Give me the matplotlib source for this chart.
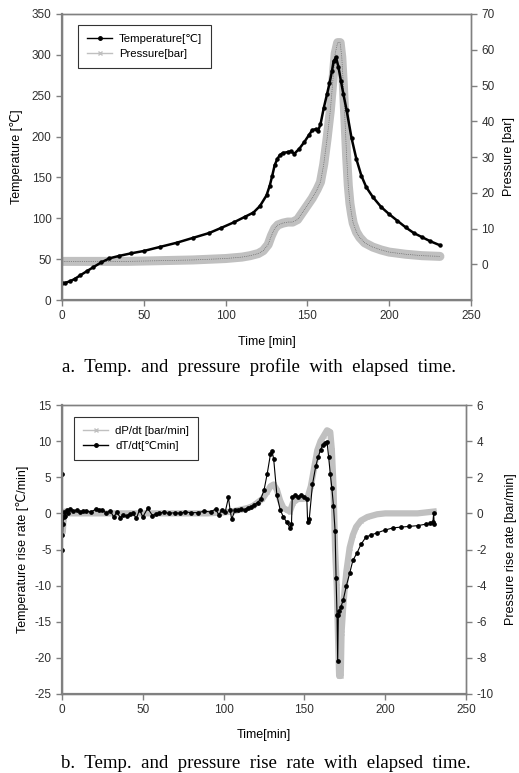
import numpy as np
import matplotlib
matplotlib.use("Agg")
import matplotlib.pyplot as plt
from matplotlib.lines import Line2D

plt.rcParams['font.family'] = ['Liberation Sans', 'DejaVu Sans']
plt.rcParams['axes.unicode_minus'] = False

# --- a. temperature / pressure profile ---
t_temp = [0, 2, 5, 8, 11, 15, 19, 24, 29, 35, 42, 50, 60, 70, 80, 90, 97, 105,
          112, 117, 121, 125, 127, 128.5, 130, 131.5, 133, 135, 138, 140, 142,
          145, 148, 151, 153, 155, 156.5, 158, 160, 162, 163.5, 165, 166, 167.5,
          169, 170.5, 172, 174, 177, 180, 183, 186, 190, 195, 200, 205, 210, 215,
          220, 225, 231]
temp = [21, 21, 23, 26, 30, 35, 40, 46, 51, 54, 57, 60, 65, 70, 76, 82, 88, 95,
        102, 107, 115, 128, 140, 152, 165, 172, 177, 180, 181, 182, 179,
        185, 193, 202, 208, 209, 207, 215, 235, 252, 265, 280, 292, 297,
        285, 268, 252, 232, 198, 172, 152, 138, 126, 114, 105, 97, 89, 82,
        77, 72, 67]

t_pres = [0, 10, 20, 30, 40, 50, 60, 70, 80, 90, 100, 110, 115, 120, 123, 126,
          128, 130, 132, 135, 138, 141, 144, 147, 150, 153, 156, 158, 160, 162,
          164, 165.5, 167, 168.5, 170, 171, 172, 173, 174, 175, 176, 177, 178,
          180, 182, 185, 190, 195, 200, 210, 220, 231]
pres = [0.8, 0.8, 0.8, 0.8, 0.8, 0.9, 1.0, 1.1, 1.2, 1.4, 1.6, 2.0, 2.4, 3.0,
        3.8, 5.5, 8.0, 10.0, 11.0, 11.5, 11.8, 11.8, 12.5, 14.5, 16.5, 18.5,
        21, 23, 28, 35, 43, 51, 59, 62, 62, 58, 50, 40, 30, 22, 17, 14, 11.5,
        9, 7.5, 6, 4.8, 4, 3.4, 2.8, 2.4, 2.2]

# --- b. rise rates ---
t_dT = [0, 0, 0.3, 0.6, 1, 1.5, 2, 3, 4, 5, 7, 9, 11, 13, 15, 18, 21, 23, 25, 27,
        30, 32, 34, 36, 38, 40, 42, 44, 46, 48, 50, 53, 56, 58, 60, 63, 66, 70,
        73, 76, 80, 84, 88, 92, 95, 97, 99, 101, 103, 104, 105, 107, 109, 111,
        113, 115, 117, 119, 121, 123, 125, 127, 129, 130, 131, 133, 135, 137,
        139, 141, 142, 142.5, 144, 146, 148, 150, 151.5, 152, 153, 155, 157,
        158.5, 160, 161.5, 163, 164, 165, 166, 167, 168, 169, 169.6, 170.2,
        170.6, 171, 171.5, 172.5, 174, 176, 178, 180, 182.5, 185, 188, 191, 195,
        200, 205, 210, 215, 220, 225, 228, 229.5, 230, 230.3]
dT = [5.5, -5, -3, -1.5, -0.5, 0.2, -0.3, 0.4, 0.1, 0.6, 0.3, 0.5, 0.2, 0.3, 0.3,
      0.2, 0.6, 0.4, 0.5, 0.1, 0.3, -0.5, 0.2, -0.6, -0.2, -0.4, -0.1, 0.0, -0.7,
      0.5, -0.5, 0.7, -0.3, -0.1, 0.0, 0.2, 0.0, 0.1, 0.0, 0.2, 0.1, 0.1, 0.3,
      0.2, 0.6, -0.2, 0.5, 0.2, 2.2, 0.5, -0.8, 0.4, 0.4, 0.6, 0.5, 0.8, 0.9,
      1.2, 1.5, 2.0, 3.2, 5.5, 8.2, 8.6, 7.5, 2.5, 0.5, -0.5, -1.2, -2.0, -1.5,
      2.3, 2.5, 2.2, 2.6, 2.2, 2.0, -1.2, -0.8, 4.0, 6.5, 7.8, 8.8, 9.5, 9.8,
      9.9, 7.8, 5.5, 3.5, 1.0, -2.5, -9, -14, -20.5, -14, -13.5, -13, -12, -10,
      -8.3, -6.5, -5.5, -4.3, -3.3, -3.0, -2.7, -2.3, -2.0, -1.9, -1.8, -1.7,
      -1.5, -1.4, -1.2, 0.0, -1.5]

t_dP = [0, 0.5, 1, 2, 4, 10, 20, 30, 40, 50, 60, 70, 80, 90, 100, 105, 110, 115,
        118, 121, 124, 127, 129, 131, 133, 135, 137, 139, 141, 143, 146, 149,
        152, 154, 156, 158, 160, 162, 164, 166, 167, 168, 169, 170, 171, 171.5,
        172.5, 173, 174, 175, 176, 178, 180, 182, 185, 189, 195, 200, 210, 220,
        230]
dP = [0, -1.0, -0.3, 0.1, 0, 0, 0, 0, 0, 0, 0, 0, 0, 0, 0.05, 0.1, 0.2, 0.3,
      0.4, 0.6, 0.8, 1.2, 1.5, 1.6, 1.3, 0.7, 0.3, 0.2, 0.1, 0.6, 0.8, 0.8,
      0.9, 1.5, 2.5, 3.5, 4.0, 4.3, 4.6, 4.5, 3.5, 1.5, -2, -4, -7.5, -9.0,
      -9.0, -6.6, -5.2, -4.1, -3.2, -1.9, -1.2, -0.75, -0.4, -0.2, -0.05, 0,
      0, 0, 0.1]

GRAY = '#c0c0c0'
SPINE = '#808080'
W, H = 519, 773

fig = plt.figure(figsize=(W / 100, H / 100), dpi=100)


def style(ax, ax2):
    for a in (ax, ax2):
        for s in a.spines.values():
            s.set_color(SPINE)
            s.set_linewidth(1.0)
        a.tick_params(direction='out', length=4, width=1, color=SPINE,
                      labelsize=8.5, labelcolor='#303030')
    ax.spines['left'].set_linewidth(1.6)
    ax.spines['bottom'].set_linewidth(1.6)


def make_legend(ax, handles, labels, anchor):
    leg = ax.legend(handles, labels, loc='upper left', bbox_to_anchor=anchor,
                    fontsize=8.2, frameon=True, fancybox=False, borderpad=0.8,
                    handlelength=2.2, labelspacing=0.45, borderaxespad=0,
                    handletextpad=0.6)
    leg.get_frame().set_edgecolor('black')
    leg.get_frame().set_linewidth(0.8)
    return leg


# top panel
ax1 = fig.add_axes([62 / W, 1 - 300 / H, 409 / W, 286 / H])
ax2 = ax1.twinx()
ax2.plot(t_pres, pres, color=GRAY, lw=6.5, solid_capstyle='round')
ax2.plot(t_pres, pres, color='#505050', lw=0.5, ls=':')
ax1.plot(t_temp, temp, color='black', lw=1.8, marker='o', ms=2.2)
ax1.set_zorder(ax2.get_zorder() + 1)
ax1.patch.set_visible(False)
ax1.set_xlim(0, 250)
ax1.set_ylim(0, 350)
ax1.set_yticks(np.arange(0, 351, 50))
ax1.set_xticks(np.arange(0, 251, 50))
ax2.set_ylim(-10, 70)
ax2.set_yticks(np.arange(0, 71, 10))
style(ax1, ax2)
ax1.set_ylabel('Temperature [℃]', fontsize=9, labelpad=6)
ax2.set_ylabel('Pressure [bar]', fontsize=9, labelpad=6)
fig.text(267 / W, 1 - 342 / H, 'Time [min]', ha='center', va='center', fontsize=9)
h1 = [Line2D([], [], color='black', lw=1, marker='o', ms=2.5),
      Line2D([], [], color=GRAY, lw=1, marker='x', ms=3.5)]
make_legend(ax1, h1, ['Temperature[℃]', 'Pressure[bar]'], (0.039, 0.962))
fig.text(259 / W, 1 - 367 / H, 'a.  Temp.  and  pressure  profile  with  elapsed  time.',
         ha='center', va='center', fontsize=13.5, family='Liberation Serif')

# bottom panel
bx1 = fig.add_axes([62 / W, 1 - 694 / H, 404 / W, 289 / H])
bx2 = bx1.twinx()
bx2.plot(t_dP, dP, color=GRAY, lw=4.5, marker='x', ms=3, mew=1)
bx1.plot(t_dT, dT, color='black', lw=0.8, marker='o', ms=2.4)
bx1.set_zorder(bx2.get_zorder() + 1)
bx1.patch.set_visible(False)
bx1.set_xlim(0, 250)
bx1.set_ylim(-25, 15)
bx1.set_yticks(np.arange(-25, 16, 5))
bx1.set_xticks(np.arange(0, 251, 50))
bx2.set_ylim(-10, 6)
bx2.set_yticks(np.arange(-10, 7, 2))
style(bx1, bx2)
bx1.set_ylabel('Temperature rise rate [℃/min]', fontsize=9, labelpad=4)
bx2.set_ylabel('Pressure rise rate [bar/min]', fontsize=9, labelpad=8)
fig.text(264 / W, 1 - 735 / H, 'Time[min]', ha='center', va='center', fontsize=9)
h2 = [Line2D([], [], color=GRAY, lw=1, marker='x', ms=3.5),
      Line2D([], [], color='black', lw=1, marker='o', ms=2.5)]
make_legend(bx1, h2, ['dP/dt [bar/min]', 'dT/dt[℃min]'], (0.03, 0.958))
fig.text(266 / W, 1 - 763 / H, 'b.  Temp.  and  pressure  rise  rate  with  elapsed  time.',
         ha='center', va='center', fontsize=13.5, family='Liberation Serif')

fig.savefig('out.png', dpi=100)
